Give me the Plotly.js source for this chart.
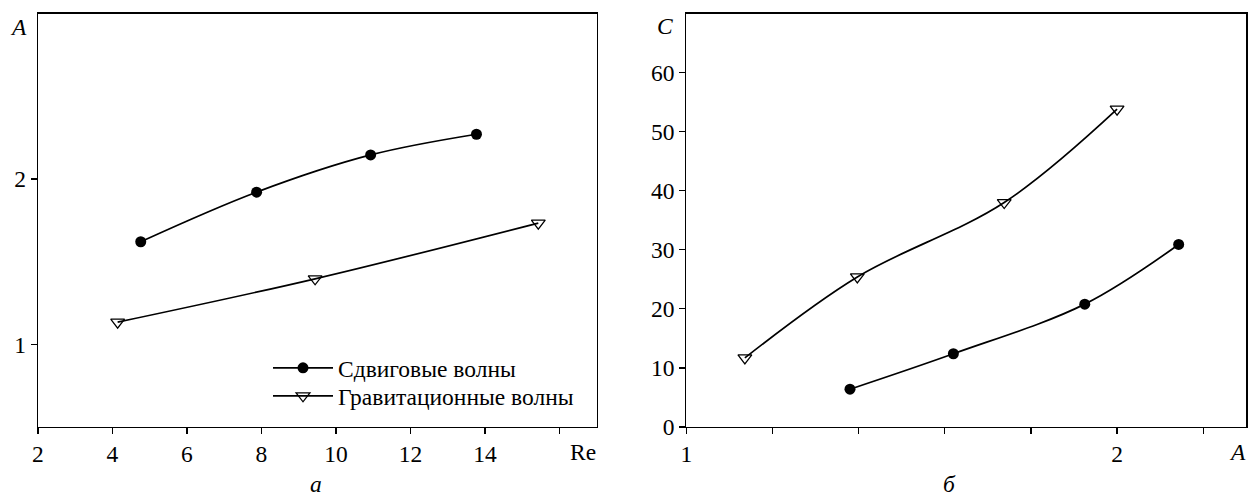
<!DOCTYPE html>
<html>
<head>
<meta charset="utf-8">
<script src="https://cdn.plot.ly/plotly-3.0.1.min.js"></script>
<style>html,body{margin:0;padding:0;background:#fff;}#chart{width:1251px;height:500px;}</style>
</head>
<body>
<div id="chart"></div>
<script>
// Panel а: A vs Re
const reShear = [4.76, 7.87, 10.93, 13.77];
const aShear = [1.62, 1.92, 2.145, 2.27];
const reGrav = [4.14, 9.44, 15.43];
const aGrav = [1.134, 1.396, 1.733];
// Panel б: C vs A
const aShearB = [1.38, 1.62, 1.925, 2.143];
const cShearB = [6.4, 12.4, 20.8, 30.9];
const aGravB = [1.136, 1.397, 1.738, 2.0];
const cGravB = [11.7, 25.4, 38.0, 53.8];

const seriesNames = ["Сдвиговые волны", "Гравитационные волны"];
const xTicksA = [2, 4, 6, 8, 10, 12, 14, 16];
const xTickTextA = ["2", "4", "6", "8", "10", "12", "14", ""];
const yTicksA = [1, 2];
const xTicksB = [1, 1.2, 1.4, 1.6, 1.8, 2, 2.2];
const xTickTextB = ["1", "", "", "", "", "2", ""];
const yTicksB = [0, 10, 20, 30, 40, 50, 60];

const FONT = 'Liberation Serif';
const FS = 23.5;
const lineStyle = {color: '#000', width: 1.7, shape: 'spline', smoothing: 1};
const shearMarker = {symbol: 'circle', size: 11, color: '#000'};
const gravMarker = {symbol: 'triangle-down-open', size: 12, color: '#000', line: {width: 1.3, color: '#000'}};

const traces = [
  {x: reShear, y: aShear, name: seriesNames[0], mode: 'lines+markers', line: lineStyle, marker: shearMarker, xaxis: 'x', yaxis: 'y', legend: 'legend'},
  {x: reGrav, y: aGrav, name: seriesNames[1], mode: 'lines+markers', line: lineStyle, marker: gravMarker, xaxis: 'x', yaxis: 'y', legend: 'legend2'},
  {x: aShearB, y: cShearB, name: seriesNames[0], mode: 'lines+markers', line: lineStyle, marker: shearMarker, xaxis: 'x2', yaxis: 'y2', showlegend: false},
  {x: aGravB, y: cGravB, name: seriesNames[1], mode: 'lines+markers', line: lineStyle, marker: gravMarker, xaxis: 'x2', yaxis: 'y2', showlegend: false}
];

const axBase = {
  showgrid: false, zeroline: false, showline: true, linecolor: '#000', linewidth: 1.2,
  mirror: true, ticks: 'outside', ticklen: 6, tickwidth: 1.2, tickcolor: '#000',
  tickfont: {family: FONT, size: FS, color: '#000'}, tickmode: 'array', fixedrange: true
};
const yDom = [0.146, 0.973];

function label(text, px, py) {
  return {text: text, x: px / 1251, y: 1 - py / 500, xref: 'paper', yref: 'paper',
    xanchor: 'center', yanchor: 'middle', showarrow: false,
    font: {family: FONT, size: FS, color: '#000'}};
}
function legendAt(py) {
  return {
    x: 268 / 1251, y: 1 - py / 500, xanchor: 'left', yanchor: 'middle',
    bgcolor: 'rgba(0,0,0,0)', borderwidth: 0,
    font: {family: FONT, size: FS, color: '#000'},
    tracegroupgap: 0, itemwidth: 60
  };
}

const layout = {
  width: 1251, height: 500,
  margin: {l: 0, r: 0, t: 0, b: 0},
  paper_bgcolor: '#fff', plot_bgcolor: '#fff',
  font: {family: FONT, color: '#000'},
  showlegend: true,
  legend: legendAt(368),
  legend2: legendAt(396),
  xaxis: Object.assign({}, axBase, {domain: [37.9 / 1251, 596.8 / 1251], range: [2, 17], tickvals: xTicksA, ticktext: xTickTextA, anchor: 'y'}),
  yaxis: Object.assign({}, axBase, {domain: yDom, range: [0.5, 3], tickvals: yTicksA, ticktext: yTicksA.map(String), anchor: 'x'}),
  xaxis2: Object.assign({}, axBase, {domain: [686.3 / 1251, 1246.3 / 1251], range: [1, 2.3], tickvals: xTicksB, ticktext: xTickTextB, anchor: 'y2'}),
  yaxis2: Object.assign({}, axBase, {domain: yDom, range: [0, 70], tickvals: yTicksB, ticktext: yTicksB.map(String), anchor: 'x2'}),
  annotations: [
    label('<i>A</i>', 18.3, 26.7),
    label('Re', 583, 452),
    label('<i>а</i>', 316, 484),
    label('<i>C</i>', 665, 26),
    label('<i>A</i>', 1237, 452),
    label('<i>б</i>', 949, 484)
  ]
};

Plotly.newPlot('chart', traces, layout, {staticPlot: true, displayModeBar: false});
</script>
</body>
</html>
